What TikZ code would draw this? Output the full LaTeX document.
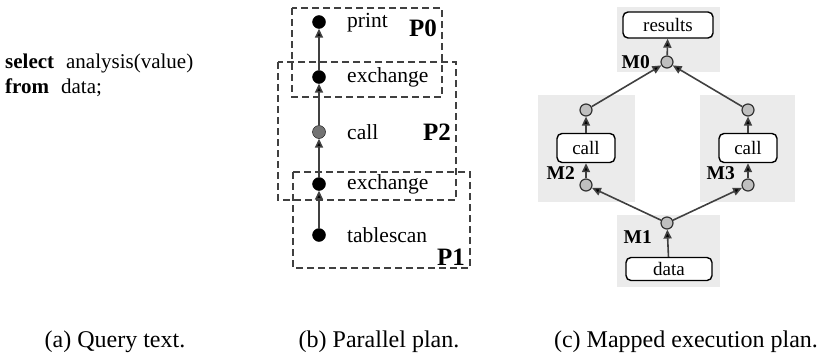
\documentclass[tikz,border=0pt]{standalone}
\usepackage{fontspec}
\setmainfont{Liberation Serif}
\usetikzlibrary{shapes, arrows.meta, positioning}
\tikzset{
    opdot/.style={circle, draw, fill=black, inner sep=0pt, minimum size=13pt},
    calldot/.style={opdot, fill=black!55},
    mapdot/.style={circle, draw=black!80, line width=1.2pt, fill=black!25, inner sep=0pt, minimum size=12pt},
    opbox/.style={rectangle, draw, line width=1.4pt, rounded corners=5pt, fill=white, align=center, inner sep=0pt, font=\fontsize{19}{22}\selectfont},
    arrow/.style={line width=1.6pt, draw=black!75, -{Triangle[length=9pt, width=8pt, fill=black]}},
    part/.style={draw=black!75, line width=1.8pt, dash pattern=on 7pt off 4pt},
    mapbg/.style={fill=black!8},
    oplabel/.style={anchor=west, inner sep=0pt, font=\fontsize{21.5}{24}\selectfont},
    partlabel/.style={inner sep=0pt, font=\fontsize{25}{28}\selectfont\bfseries},
    maplabel/.style={anchor=east, inner sep=0pt, font=\fontsize{19.5}{22}\selectfont\bfseries},
    caption/.style={inner sep=0pt, font=\fontsize{24}{28}\selectfont}
}

\begin{document}
\begin{tikzpicture}[x=1pt, y=-1pt]
    \useasboundingbox (0,0) rectangle (824,356);

    % (a) query text
    \node[anchor=west, inner sep=0pt, align=left, font=\fontsize{21}{25}\selectfont] (query) at (5,75)
        {\textbf{select}\hspace{12pt}analysis(value)\\ \textbf{from}\hspace{12pt}data;};

    % (b) parallel plan
    \draw[part] (292,8) rectangle (442,97);
    \draw[part] (278,62) rectangle (456,200);
    \draw[part] (293,172) rectangle (470,268);

    \node[opdot] (print) at (319,22) {};
    \node[opdot] (exA) at (319,77) {};
    \node[calldot] (call) at (319,132) {};
    \node[opdot] (exB) at (319,184) {};
    \node[opdot] (scan) at (319,235) {};

    \node[oplabel] (printlbl) at (347,23) {print};
    \node[oplabel] (exAlbl) at (347,77) {exchange};
    \node[oplabel] (calllbl) at (347,132) {call};
    \node[oplabel] (exBlbl) at (347,184) {exchange};
    \node[oplabel] (scanlbl) at (347,235) {tablescan};

    \node[partlabel] (P0) at (423,28) {P0};
    \node[partlabel] (P2) at (437,132) {P2};
    \node[partlabel] (P1) at (451,257) {P1};

    \draw[arrow] (scan) -- (exB);
    \draw[arrow] (exB) -- (call);
    \draw[arrow] (call) -- (exA);
    \draw[arrow] (exA) -- (print);

    % (c) mapped execution plan
    \fill[mapbg] (617,7) rectangle (720,72);
    \fill[mapbg] (538,95) rectangle (635,202);
    \fill[mapbg] (700,95) rectangle (795,202);
    \fill[mapbg] (617,215) rectangle (720,287);

    \node[opbox, minimum width=90pt, minimum height=26pt] (results) at (668,25) {results};
    \node[mapdot] (M0) at (667,62) {};
    \node[mapdot] (outL) at (586,110) {};
    \node[opbox, minimum width=58pt, minimum height=29pt] (callL) at (586,148) {call};
    \node[mapdot] (M2) at (586,185) {};
    \node[mapdot] (outR) at (748,110) {};
    \node[opbox, minimum width=58pt, minimum height=29pt] (callR) at (748,148) {call};
    \node[mapdot] (M3) at (748,185) {};
    \node[mapdot] (M1) at (667,223) {};
    \node[opbox, minimum width=86pt, minimum height=23pt] (data) at (669,269) {data};

    \node[maplabel] (M0lbl) at (650,62) {M0};
    \node[maplabel] (M2lbl) at (575,173) {M2};
    \node[maplabel] (M3lbl) at (735,173) {M3};
    \node[maplabel] (M1lbl) at (652,237) {M1};

    \draw[arrow] (data) -- (M1);
    \draw[arrow] (M1) -- (M2);
    \draw[arrow] (M1) -- (M3);
    \draw[arrow] (M2) -- (callL);
    \draw[arrow] (M3) -- (callR);
    \draw[arrow] (callL) -- (outL);
    \draw[arrow] (callR) -- (outR);
    \draw[arrow] (outL) -- (M0);
    \draw[arrow] (outR) -- (M0);
    \draw[arrow] (M0) -- (results);

    % captions
    \node[caption] (capA) at (115,342) {(a) Query text.};
    \node[caption] (capB) at (379,342) {(b) Parallel plan.};
    \node[caption] (capC) at (686,342) {(c) Mapped execution plan.};
\end{tikzpicture}
\end{document}
